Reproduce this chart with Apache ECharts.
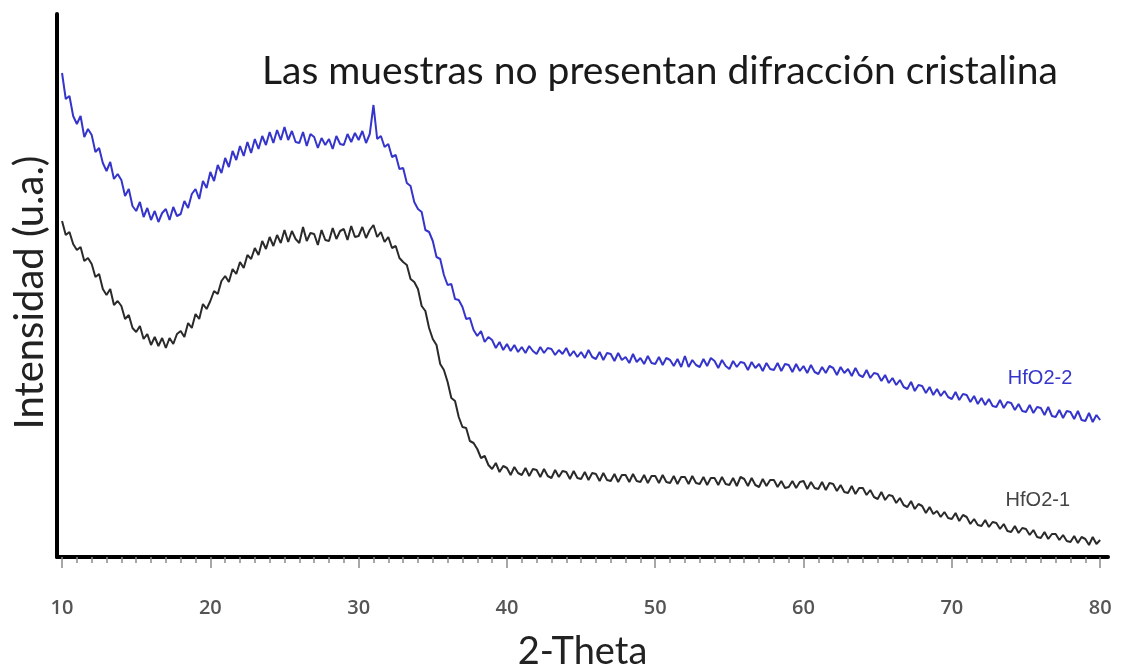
<!DOCTYPE html>
<html>
<head>
<meta charset="utf-8">
<script src="https://cdn.jsdelivr.net/npm/echarts@6/dist/echarts.min.js"></script>
<style>
html,body{margin:0;padding:0;background:#fff;}
#chart{width:1122px;height:669px;}
</style>
</head>
<body>
<div id="chart"></div>
<script>
// Sampling grid of the scan: 2-Theta from 10 to 80 in 0.25 degree steps
const thetaStart = 10;
const thetaStep = 0.25;

// HfO2-2 (blue) intensity, arbitrary units, 4 readings per degree
const hfo2_2 = [
484,458,461,441, 433,441,420,428, 422,405,409,394, 386,395,378,383, 377,361,368,351,
346,355,340,349, 337,346,335,344, 348,337,350,341, 343,356,349,363, 368,358,376,369,
385,376,392,384, 399,390,406,397, 411,401,415,404, 418,408,421,412, 425,414,427,417,
430,417,426,415, 414,425,411,423, 420,409,419,412, 418,408,421,413, 412,423,415,424,
417,426,414,423, 452,418,421,410, 413,400,402,388, 389,374,371,355, 348,345,327,325,
316,300,298,282, 272,273,258,257, 250,238,239,227, 221,226,215,220, 217,209,215,207,
213,206,212,205, 210,204,211,206, 203,210,204,209, 208,202,207,203, 209,201,206,200,
205,199,207,200, 198,205,197,204, 203,196,204,197, 200,194,203,195, 199,193,201,194,
193,200,192,199, 197,191,198,190, 201,190,197,192, 190,198,191,199, 196,189,197,191,
188,196,190,195, 194,187,195,189, 193,186,194,188, 187,194,186,193, 192,185,193,186,
191,184,192,185, 183,190,184,191, 189,182,190,184, 188,181,189,182, 180,187,179,184,
183,176,182,174, 179,172,177,170, 168,175,166,172, 171,164,170,162, 168,161,166,160,
158,165,157,163, 162,155,161,153, 159,152,158,151, 150,157,149,155, 154,147,153,146,
145,152,144,150, 149,142,150,141, 140,147,139,146, 145,138,146,137, 136,144,135,142,
137
];

// HfO2-1 (black) intensity, arbitrary units, 4 readings per degree
const hfo2_1 = [
336,322,325,313, 307,310,296,299, 293,280,283,268, 262,268,252,256, 251,238,242,229,
225,231,218,223, 212,220,211,219, 209,219,213,223, 226,220,234,229, 243,238,253,248,
256,266,263,276, 281,275,288,283, 295,289,302,298, 309,302,316,308, 320,311,322,314,
327,315,326,318, 314,330,316,324, 323,312,327,317, 316,329,318,326, 328,317,331,320,
321,330,319,327, 332,320,325,315, 320,309,311,299, 295,292,278,275, 268,251,246,229,
218,212,193,187, 175,159,156,140, 130,129,116,114, 108,99,101,92, 88,94,85,91,
89,82,90,84, 82,89,81,88, 87,80,88,81, 79,87,80,86, 85,78,86,79,
78,85,77,84, 83,76,84,77, 76,83,75,82, 82,75,83,76, 75,82,74,81,
81,74,82,75, 74,81,73,80, 80,73,81,74, 73,80,72,79, 79,72,80,73,
72,79,71,80, 78,71,79,72, 70,78,71,77, 77,70,76,69, 70,76,69,75,
76,68,75,69, 68,75,67,74, 73,66,72,65, 64,71,63,69, 69,62,67,60,
58,65,57,62, 61,54,59,52, 50,56,48,53, 51,44,50,43, 46,40,45,39,
38,44,36,42, 40,33,38,32, 31,37,30,35, 34,28,33,26, 25,31,24,29,
28,22,27,20, 19,25,18,23, 23,17,22,16, 15,21,14,20, 18,12,20,13,
17
];

const xTickLabels = [10, 20, 30, 40, 50, 60, 70, 80];
const minorTicks = [];
for (let v = 10; v <= 80; v++) minorTicks.push(v);

const titleText = 'Las muestras no presentan difracción cristalina';
const xName = '2-Theta';
const yName = 'Intensidad (u.a.)';
const seriesNames = ['HfO2-2', 'HfO2-1'];
// label anchor positions in data units [2-Theta, intensity]
const labelPos = [[75.95, 179], [75.8, 57]];

const toPairs = arr => arr.map((v, i) => [thetaStart + i * thetaStep, v]);

const chart = echarts.init(document.getElementById('chart'), null, {renderer: 'canvas'});
const xMin = 9.66, xMax = 80.53;
chart.setOption({
  animation: false,
  backgroundColor: '#ffffff',
  title: {
    text: titleText,
    left: 257, top: 47,
    textStyle: {fontFamily: 'Lato', fontSize: 39, fontWeight: 'normal', color: '#1a1a1a'}
  },
  grid: {left: 57, right: 14, top: 14, bottom: 112, containLabel: false, outerBoundsMode: 'none'},
  xAxis: [{
    type: 'value', min: xMin, max: xMax,
    name: xName, nameLocation: 'middle', nameGap: 76,
    nameTextStyle: {fontFamily: 'Lato', fontSize: 38, color: '#222'},
    axisLine: {show: true, onZero: false, lineStyle: {color: '#000', width: 4}},
    axisTick: {show: true, inside: false, length: 6, customValues: minorTicks, lineStyle: {color: '#8a8a8a', width: 1.5}},
    axisLabel: {show: true, customValues: xTickLabels, margin: 41, fontFamily: 'Open Sans', fontWeight: 600, fontSize: 20, color: '#555'},
    splitLine: {show: false}
  }, {
    type: 'value', min: xMin, max: xMax, position: 'bottom',
    axisLine: {show: false},
    axisTick: {show: true, inside: false, length: 11, customValues: xTickLabels, lineStyle: {color: '#8a8a8a', width: 1.5}},
    axisLabel: {show: false},
    splitLine: {show: false}
  }],
  yAxis: {
    type: 'value', min: 0, max: 543,
    name: yName, nameLocation: 'middle', nameGap: 7, nameRotate: 90,
    nameTextStyle: {fontFamily: 'Lato', fontSize: 40, color: '#222', padding: [0, 14, 0, 0]},
    axisLine: {show: true, onZero: false, lineStyle: {color: '#000', width: 4}},
    axisTick: {show: false},
    axisLabel: {show: false},
    splitLine: {show: false}
  },
  series: [{
    name: seriesNames[0], type: 'line', xAxisIndex: 0, data: toPairs(hfo2_2),
    showSymbol: false, symbol: 'none',
    lineStyle: {color: '#3535cc', width: 2},
    markPoint: {
      symbol: 'circle', symbolSize: 0, silent: true,
      label: {show: true, position: 'inside', formatter: seriesNames[0], fontFamily: 'Liberation Sans', fontSize: 20, color: '#3535cc'},
      data: [{coord: labelPos[0]}]
    }
  }, {
    name: seriesNames[1], type: 'line', xAxisIndex: 0, data: toPairs(hfo2_1),
    showSymbol: false, symbol: 'none',
    lineStyle: {color: '#2a2a2a', width: 2},
    markPoint: {
      symbol: 'circle', symbolSize: 0, silent: true,
      label: {show: true, position: 'inside', formatter: seriesNames[1], fontFamily: 'Liberation Sans', fontSize: 20, color: '#444'},
      data: [{coord: labelPos[1]}]
    }
  }]
});
</script>
</body>
</html>
